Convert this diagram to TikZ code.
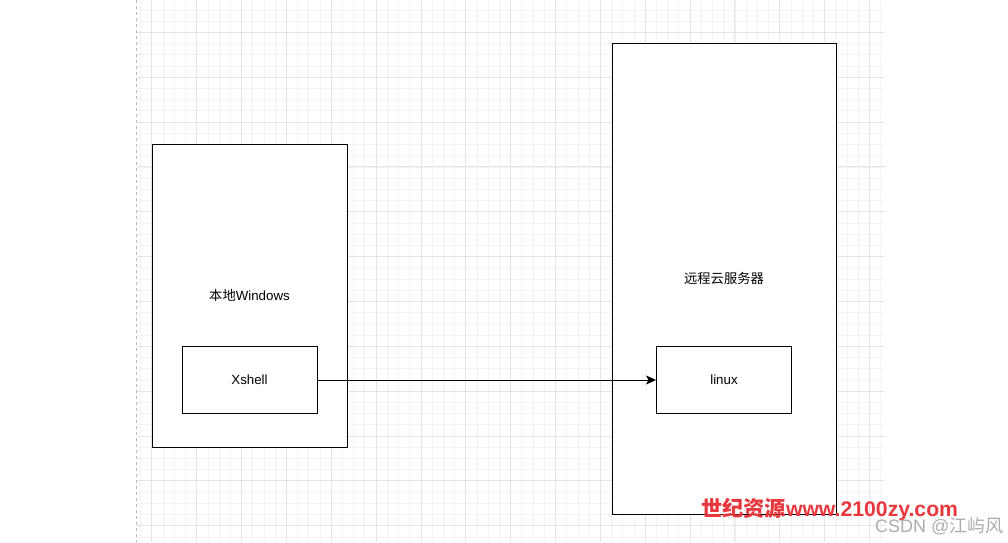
\documentclass[tikz,border=0pt]{standalone}
\usepackage{fontspec}
\setmainfont{Liberation Sans}
\newfontfamily\cjk{Noto Sans CJK SC}
\usetikzlibrary{arrows.meta}
\definecolor{gridminor}{HTML}{F3F3F3}
\definecolor{gridmajor}{HTML}{E4E4E4}
\definecolor{dashgray}{HTML}{B8B8B8}
\definecolor{wmred}{HTML}{E8383D}
\definecolor{wmgray}{HTML}{ADADAD}
\begin{document}
\begin{tikzpicture}[x=1pt,y=-1pt,
  minorline/.style={draw=gridminor,line width=0.7pt},
  majorline/.style={draw=gridmajor,line width=0.8pt},
  dashline/.style={draw=dashgray,line width=0.9pt,dash pattern=on 3pt off 3pt},
  box/.style={draw=black,fill=white,line width=1pt,inner sep=0pt,
    font=\fontsize{13.3}{16}\selectfont},
  conn/.style={draw=black,line width=1pt,-{Stealth[length=10pt,width=9pt,inset=2.5pt]}}]
\useasboundingbox (0,0) rectangle (1008,542);
\fill[white] (0,0) rectangle (1008,542);
% grid
\foreach \k in {-1,0,...,65}{
  \pgfmathsetmacro\xx{151.8+11.2125*\k}
  \draw[minorline] (\xx,0) -- (\xx,542);
}
\foreach \k in {-2,-1,...,45}{
  \pgfmathsetmacro\yy{32.3+11.2125*\k}
  \draw[minorline] (136.7,\yy) -- (885,\yy);
}
\foreach \k in {0,4,...,64}{
  \pgfmathsetmacro\xx{151.8+11.2125*\k}
  \draw[majorline] (\xx,0) -- (\xx,542);
}
\foreach \k in {0,4,...,44}{
  \pgfmathsetmacro\yy{32.3+11.2125*\k}
  \draw[majorline] (136.7,\yy) -- (885,\yy);
}
\draw[dashline] (136.7,0) -- (136.7,542);
% boxes
\node[box,minimum width=195,minimum height=303] (win) at (249.5,295.5) {{\cjk 本地}Windows};
\node[box,minimum width=224,minimum height=471] (srv) at (724,278.8) {{\cjk 远程云服务器}};
\node[box,minimum width=135,minimum height=67] (xsh) at (249.5,380) {Xshell};
\node[box,minimum width=135,minimum height=67] (lnx) at (724,380) {linux};
\draw[conn] (xsh.east) -- (lnx.west);
% watermarks
\node[anchor=base west,inner sep=0pt,text=wmred,font=\fontsize{21.2}{24}\selectfont\bfseries] (wm1) at (701,516) {{\cjk 世纪资源}www.2100zy.com};
\node[anchor=base west,inner sep=0pt,text=wmgray,font=\fontsize{18}{20}\selectfont] (wm2) at (875,532) {CSDN @{\cjk 江屿风}};
\end{tikzpicture}
\end{document}
